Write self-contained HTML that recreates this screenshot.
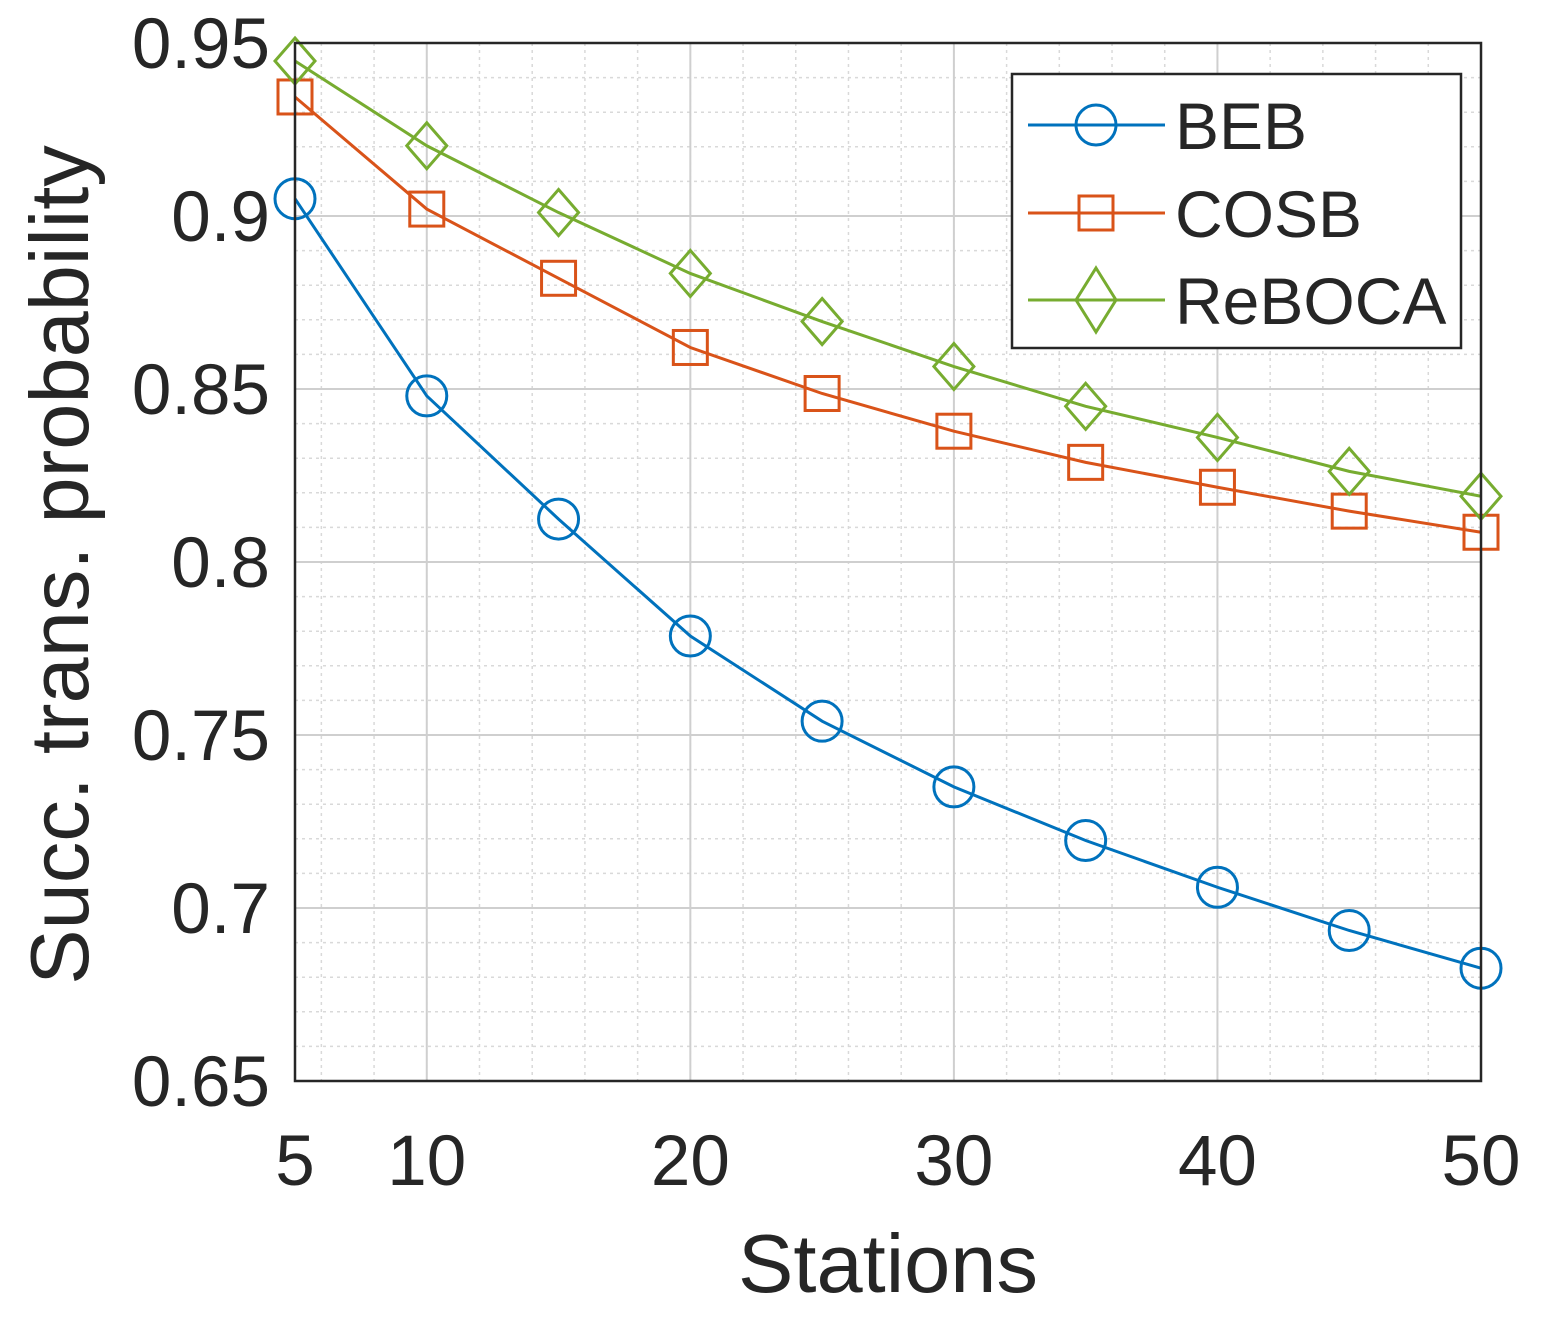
<!DOCTYPE html>
<html><head><meta charset="utf-8"><style>
html,body{margin:0;padding:0;background:#fff;}
svg text{font-family:"Liberation Sans",Arial,sans-serif;fill:#262626;}
</style></head><body>
<svg id="chart" width="1553" height="1322" xmlns="http://www.w3.org/2000/svg">
<rect width="1553" height="1322" fill="#fff"/>
<g id="grid"></g>
<g id="series"></g>
<rect x="295" y="43" width="1186" height="1038" fill="none" stroke="#262626" stroke-width="2.5"/>
<g id="ticks"></g>
<text x="888" y="1292" font-size="83" text-anchor="middle">Stations</text>
<text transform="translate(88,565) rotate(-90)" font-size="83" text-anchor="middle">Succ. trans. probability</text>
<g>
<rect x="1012" y="74" width="449" height="274" fill="#fff" stroke="#262626" stroke-width="2.5"/>
<g>
<line x1="1028" y1="125" x2="1165" y2="125" stroke="#0072BD" stroke-width="3"/>
<circle cx="1096" cy="125" r="20" fill="none" stroke="#0072BD" stroke-width="3"/>
<text x="1175" y="149" font-size="66">BEB</text></g>
<g>
<line x1="1028" y1="213" x2="1165" y2="213" stroke="#D95319" stroke-width="3"/>
<rect x="1079" y="196" width="34" height="34" fill="none" stroke="#D95319" stroke-width="3"/>
<text x="1175" y="237" font-size="66">COSB</text></g>
<g>
<line x1="1028" y1="300" x2="1165" y2="300" stroke="#77AC30" stroke-width="3"/>
<polygon points="1096,268 1116,300 1096,332 1076,300" fill="none" stroke="#77AC30" stroke-width="3"/>
<text x="1175" y="324" font-size="66">ReBOCA</text></g>
</g>
</svg>
<script>
const stations=[5,10,15,20,25,30,35,40,45,50];
const beb=[0.905,0.848,0.8124,0.7786,0.754,0.735,0.7195,0.706,0.6935,0.6826];
const cosb=[0.9344,0.902,0.882,0.862,0.8487,0.8378,0.8288,0.8216,0.8147,0.8086];
const reboca=[0.9448,0.9203,0.901,0.8834,0.8695,0.8565,0.845,0.836,0.8262,0.819];
const xTicks=[5,10,20,30,40,50];
const yTicks=[0.65,0.7,0.75,0.8,0.85,0.9,0.95];
const NS="http://www.w3.org/2000/svg";
const X0=295,X1=1481,Y0=1081,Y1=43;
function sx(v){return X0+(v-5)/(50-5)*(X1-X0);}
function sy(v){return Y0-(v-0.65)/(0.95-0.65)*(Y0-Y1);}
function mk(t,a,p){const e=document.createElementNS(NS,t);for(const k in a)e.setAttribute(k,a[k]);p.appendChild(e);return e;}
const grid=document.getElementById('grid');
for(let v=6;v<50;v+=2){const l=mk('line',{x1:sx(v),x2:sx(v),y1:Y1,y2:Y0,stroke:'#d9d9d9','stroke-width':1.5,'stroke-dasharray':'3,4'},grid);

}
for(let i=1;i<30;i++){const v=0.65+i*0.01;const l=mk('line',{x1:X0,x2:X1,y1:sy(v),y2:sy(v),stroke:'#d9d9d9','stroke-width':1.5,'stroke-dasharray':'3,4'},grid);

}
const ticks=document.getElementById('ticks');
xTicks.forEach(v=>{const l=mk('line',{x1:sx(v),x2:sx(v),y1:Y1,y2:Y0,stroke:'#cfcfcf','stroke-width':2},grid);


const t=mk('text',{x:sx(v),y:1185,'font-size':71,'text-anchor':'middle'},ticks);t.textContent=v;

});
yTicks.forEach(v=>{const l=mk('line',{x1:X0,x2:X1,y1:sy(v),y2:sy(v),stroke:'#cfcfcf','stroke-width':2},grid);


const t=mk('text',{x:270,y:sy(v)+25,'font-size':71,'text-anchor':'end'},ticks);t.textContent=String(v);

});
const sg=document.getElementById('series');
function series(vals,color,shape,name){
const g=mk('g',{},sg);


const pts=vals.map((v,i)=>sx(stations[i])+','+sy(v)).join(' ');
mk('polyline',{points:pts,fill:'none',stroke:color,'stroke-width':3},g);
vals.forEach((v,i)=>{const x=sx(stations[i]),y=sy(v);let m;
if(shape==='circle')m=mk('circle',{cx:x,cy:y,r:20,fill:'none',stroke:color,'stroke-width':3},g);
else if(shape==='square')m=mk('rect',{x:x-17,y:y-17,width:34,height:34,fill:'none',stroke:color,'stroke-width':3},g);
else m=mk('polygon',{points:`${x},${y-23} ${x+20},${y} ${x},${y+23} ${x-20},${y}`,fill:'none',stroke:color,'stroke-width':3},g);

});}
series(beb,'#0072BD','circle','beb');
series(cosb,'#D95319','square','cosb');
series(reboca,'#77AC30','diamond','reboca');
</script>
</body></html>
